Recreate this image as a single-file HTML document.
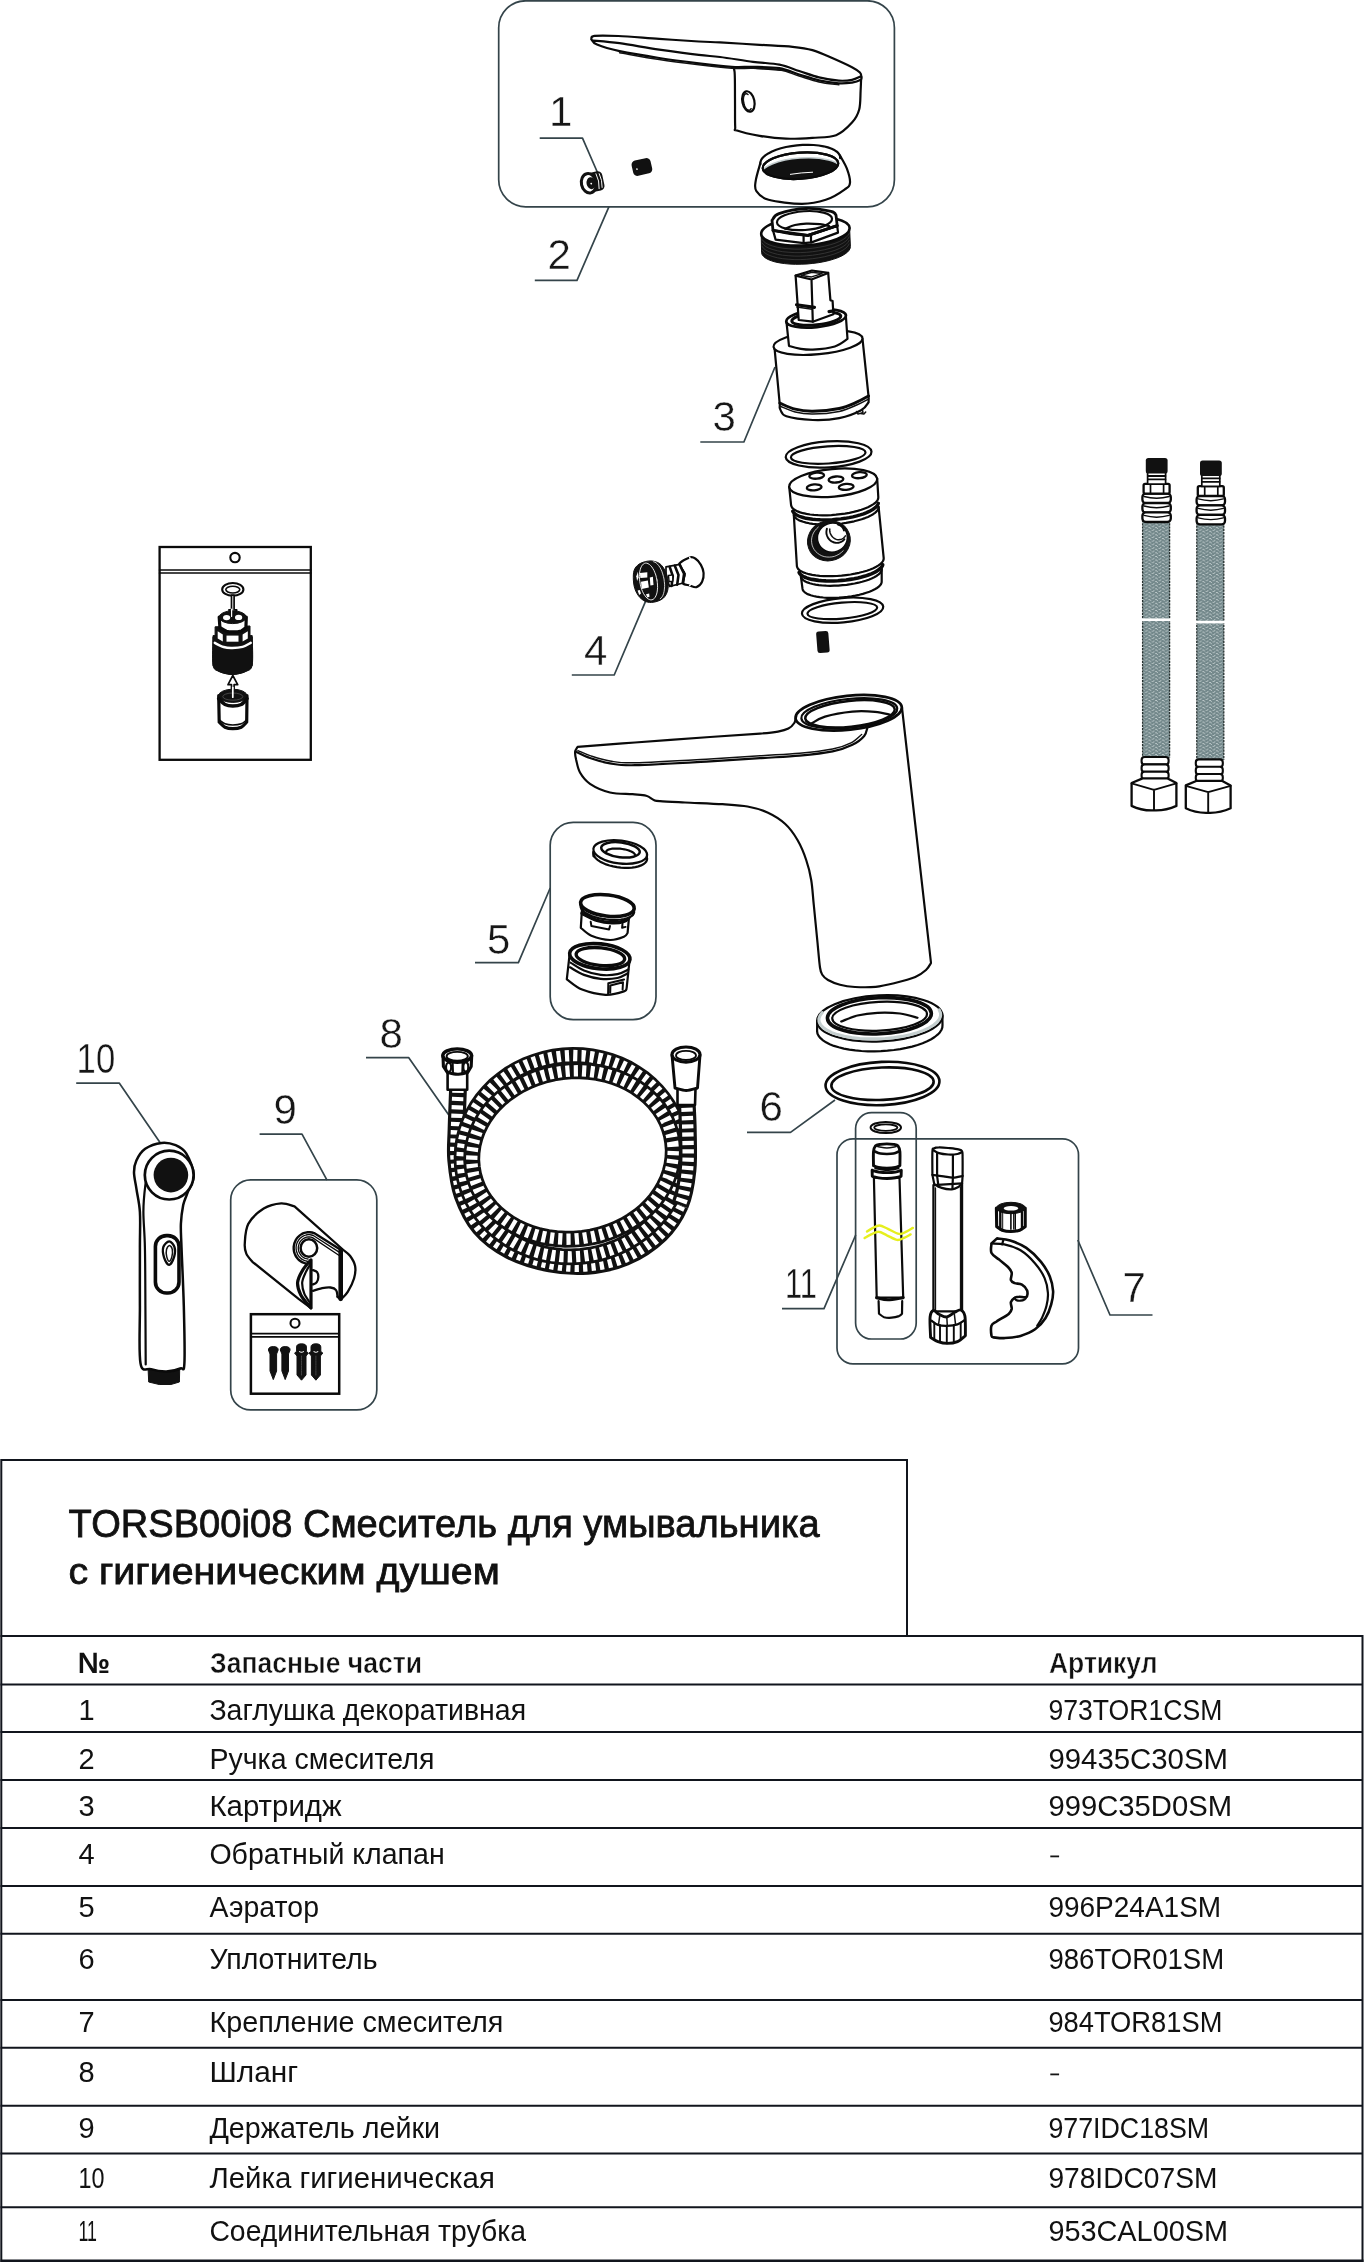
<!DOCTYPE html>
<html lang="ru"><head><meta charset="utf-8"><title>TORSB00i08</title>
<style>
html,body{margin:0;padding:0;background:#fff}
body{width:1364px;height:2262px;overflow:hidden;font-family:"Liberation Sans",sans-serif}
svg{display:block;font-family:"Liberation Sans",sans-serif}
.k{fill:none;stroke:#0a0a0a;stroke-width:2.2;stroke-linecap:round;stroke-linejoin:round}
.kw{fill:#fff;stroke:#0a0a0a;stroke-width:2.2;stroke-linecap:round;stroke-linejoin:round}
.kb{fill:#111;stroke:#111;stroke-width:1;stroke-linejoin:round}
.t{fill:none;stroke:#111;stroke-width:2.4;stroke-linecap:round;stroke-linejoin:round}
.n{fill:none;stroke:#111;stroke-width:1.5;stroke-linecap:round;stroke-linejoin:round}
</style></head><body>
<svg width="1364" height="2262" viewBox="0 0 1364 2262">
<rect width="1364" height="2262" fill="#fff"/>
<g id="tbl"><path d="M1.3 2262V1460H907V1636" fill="none" stroke="#11151d" stroke-width="2"/><path d="M0.5 1636H1362.5V2262" fill="none" stroke="#11151d" stroke-width="2"/><path d="M0.5 1684.5H1362.5" stroke="#11151d" stroke-width="2"/><path d="M0.5 1732H1362.5" stroke="#11151d" stroke-width="2"/><path d="M0.5 1780H1362.5" stroke="#11151d" stroke-width="2"/><path d="M0.5 1828H1362.5" stroke="#11151d" stroke-width="2"/><path d="M0.5 1886H1362.5" stroke="#11151d" stroke-width="2"/><path d="M0.5 1933.8H1362.5" stroke="#11151d" stroke-width="2"/><path d="M0.5 2000H1362.5" stroke="#11151d" stroke-width="2"/><path d="M0.5 2047.7H1362.5" stroke="#11151d" stroke-width="2"/><path d="M0.5 2105.8H1362.5" stroke="#11151d" stroke-width="2"/><path d="M0.5 2153.4H1362.5" stroke="#11151d" stroke-width="2"/><path d="M0.5 2207.3H1362.5" stroke="#11151d" stroke-width="2"/><path d="M0.5 2260.8H1363.5" stroke="#11151d" stroke-width="2.4"/></g>
<g id="txt" fill="#0e1118" style="filter:grayscale(1)"><text x="68.6" y="1536.8" font-size="39.4" textLength="751" lengthAdjust="spacingAndGlyphs" stroke="#0e1118" stroke-width=".8">TORSB00i08 Смеситель для умывальника</text><text x="68.4" y="1583.8" font-size="36.4" textLength="431.4" lengthAdjust="spacingAndGlyphs" stroke="#0e1118" stroke-width=".8">с гигиеническим душем</text><text x="77.8" y="1672.5" font-size="29.5" font-weight="700" textLength="32.4" lengthAdjust="spacingAndGlyphs">№</text><text x="210" y="1672.5" font-size="29.5" font-weight="700" textLength="212" lengthAdjust="spacingAndGlyphs" stroke="#fff" stroke-width=".5">Запасные части</text><text x="1049" y="1672.5" font-size="29.5" font-weight="700" textLength="108.5" lengthAdjust="spacingAndGlyphs" stroke="#fff" stroke-width=".5">Артикул</text><text x="78.5" y="1720" font-size="29">1</text><text x="209.4" y="1720" font-size="29" textLength="316.7" lengthAdjust="spacingAndGlyphs">Заглушка декоративная</text><text x="1048.4" y="1720" font-size="29" textLength="174.0" lengthAdjust="spacingAndGlyphs">973TOR1CSM</text><text x="78.5" y="1768.5" font-size="29">2</text><text x="209.4" y="1768.5" font-size="29" textLength="225" lengthAdjust="spacingAndGlyphs">Ручка смесителя</text><text x="1048.4" y="1768.5" font-size="29" textLength="179.6" lengthAdjust="spacingAndGlyphs">99435C30SM</text><text x="78.5" y="1816.3" font-size="29">3</text><text x="209.4" y="1816.3" font-size="29" textLength="132.3" lengthAdjust="spacingAndGlyphs">Картридж</text><text x="1048.4" y="1816.3" font-size="29" textLength="183.6" lengthAdjust="spacingAndGlyphs">999C35D0SM</text><text x="78.5" y="1864" font-size="29">4</text><text x="209.4" y="1864" font-size="29" textLength="235.3" lengthAdjust="spacingAndGlyphs">Обратный клапан</text><path d="M1050.3 1856.4h8.8" stroke="#11151d" stroke-width="1.8"/><text x="78.5" y="1917" font-size="29">5</text><text x="209.4" y="1917" font-size="29" textLength="109.6" lengthAdjust="spacingAndGlyphs">Аэратор</text><text x="1048.4" y="1917" font-size="29" textLength="172.79999999999998" lengthAdjust="spacingAndGlyphs">996P24A1SM</text><text x="78.5" y="1968.5" font-size="29">6</text><text x="209.4" y="1968.5" font-size="29" textLength="168.2" lengthAdjust="spacingAndGlyphs">Уплотнитель</text><text x="1048.4" y="1968.5" font-size="29" textLength="175.79999999999998" lengthAdjust="spacingAndGlyphs">986TOR01SM</text><text x="78.5" y="2031.5" font-size="29">7</text><text x="209.4" y="2031.5" font-size="29" textLength="294" lengthAdjust="spacingAndGlyphs">Крепление смесителя</text><text x="1048.4" y="2031.5" font-size="29" textLength="174.0" lengthAdjust="spacingAndGlyphs">984TOR81SM</text><text x="78.5" y="2082" font-size="29">8</text><text x="209.4" y="2082" font-size="29" textLength="88.7" lengthAdjust="spacingAndGlyphs">Шланг</text><path d="M1050.3 2074.4h8.8" stroke="#11151d" stroke-width="1.8"/><text x="78.5" y="2137.8" font-size="29">9</text><text x="209.4" y="2137.8" font-size="29" textLength="230.6" lengthAdjust="spacingAndGlyphs">Держатель лейки</text><text x="1048.4" y="2137.8" font-size="29" textLength="160.79999999999998" lengthAdjust="spacingAndGlyphs">977IDC18SM</text><text x="78.5" y="2187.6" font-size="29" textLength="26" lengthAdjust="spacingAndGlyphs">10</text><text x="209.4" y="2187.6" font-size="29" textLength="285.5" lengthAdjust="spacingAndGlyphs">Лейка гигиеническая</text><text x="1048.4" y="2187.6" font-size="29" textLength="169.0" lengthAdjust="spacingAndGlyphs">978IDC07SM</text><text x="78.5" y="2241.3" font-size="29" textLength="18.5" lengthAdjust="spacingAndGlyphs">11</text><text x="209.4" y="2241.3" font-size="29" textLength="316.7" lengthAdjust="spacingAndGlyphs">Соединительная трубка</text><text x="1048.4" y="2241.3" font-size="29" textLength="179.6" lengthAdjust="spacingAndGlyphs">953CAL00SM</text></g>
<g id="lead" fill="none" stroke="#34444a" stroke-width="1.7" stroke-linejoin="round"><rect x="498.7" y="0.8" width="395.7" height="206.0" rx="27" ry="27"/><rect x="550.2" y="822.3" width="105.79999999999995" height="197.4000000000001" rx="23" ry="23"/><rect x="837" y="1138.8" width="241.5" height="225.10000000000014" rx="16" ry="16"/><rect x="855.6" y="1112.6" width="60.60000000000002" height="226.4000000000001" rx="16" ry="16"/><rect x="230.7" y="1179.9" width="146.10000000000002" height="230.0" rx="20" ry="20"/><path d="M539.7 138.2H582.5L599 176"/><path d="M534.8 280.3H577L609 206.6"/><path d="M700.3 442H743.9L775 367"/><path d="M571.8 675H614.2L646.7 598.6"/><path d="M475 962.6H518.4L550.2 888"/><path d="M747 1132.4H790.5L835 1100"/><path d="M1152.5 1315H1110L1077.8 1240"/><path d="M366 1057.6H408.6L448.8 1115"/><path d="M259.6 1134.2H302L327 1180.2"/><path d="M76.2 1083.2H119.4L160 1142.6"/><path d="M782 1308.6H824L855.7 1235"/></g>
<g id="nums" fill="#14171c" stroke="#fff" stroke-width=".4" style="filter:grayscale(1)"><text x="549" y="126" font-size="42">1</text><text x="547.5" y="269" font-size="42">2</text><text x="712.5" y="431" font-size="42">3</text><text x="584" y="664.7" font-size="42">4</text><text x="487" y="953.6" font-size="42">5</text><text x="759.5" y="1121" font-size="42">6</text><text x="1122.5" y="1302" font-size="42">7</text><text x="379.5" y="1047.7" font-size="42">8</text><text x="273.5" y="1123.6" font-size="42">9</text><text x="76.6" y="1073" font-size="42" textLength="38.6" lengthAdjust="spacingAndGlyphs">10</text><text x="785" y="1297.7" font-size="42" textLength="32" lengthAdjust="spacingAndGlyphs">11</text></g>
<g id="p_handle"><path class="kw" d="M731.8 66C732.3 67 734.1 66.3 734.6 72C735.1 77.7 734.9 90.8 735 100C735.1 109.2 734.9 121.9 735.2 127C735.5 132.1 732.9 129 737 130.5C741.1 132 751.4 134.4 759.6 135.8C767.8 137.2 777.2 138.4 786 138.7C794.8 139 804 138.4 812.4 137.8C820.8 137.2 829.5 137.7 836.1 135.2C842.7 132.7 848.1 126.9 852 122.6C855.9 118.3 857.8 114.8 859.2 109.5C860.6 104.2 860.3 96.5 860.6 91C860.9 85.5 861.1 78.9 861.2 76.5Z"/><path class="kw" d="M591.3 39.2C591.8 38.7 590 36.4 594.5 35.9C599 35.4 607.5 35.5 618.3 36C629.1 36.5 645.8 38 659.2 38.9C672.6 39.8 688.7 40.9 698.8 41.5C708.9 42.1 709.9 41.9 720 42.4C730.1 42.9 747.5 44.1 759.6 44.8C771.7 45.5 783.8 45.9 792.6 46.8C801.4 47.7 805.8 48.2 812.4 50.1C819 52 825.6 55.1 832.2 58C838.8 60.9 847.4 64.8 852 67.2C856.6 69.6 858.3 70.9 859.9 72.5C861.5 74.1 861.3 75.8 861.4 77C861.5 78.2 861.9 79.1 860.3 80C858.7 80.9 855.6 82 852 82.6C848.4 83.1 844.3 83.7 838.8 83.3C833.3 82.9 825.6 81.9 819 80.4C812.4 78.9 805.8 76.5 799.2 74.5C792.6 72.5 787.1 69.5 779.4 68.2C771.7 66.9 760.9 67 753 66.8C745.1 66.6 740.8 67.4 731.8 66.8C722.8 66.2 710.9 64.8 698.8 63.3C686.7 61.8 672.4 60 659.2 58C646 56 630 53.4 619.6 51.2C609.2 49 601.7 46.6 597 44.6C592.3 42.6 592.2 40.1 591.3 39.2Z"/><path class="k" d="M593 40.6C597.4 41 608.6 41.7 619.6 43.2C630.6 44.7 646 47.7 659.2 49.6C672.4 51.5 688.7 53.7 698.8 54.9C708.9 56.1 711 55.9 720 57C729 58.1 743.1 60.5 753 61.8C762.9 63.1 771.7 63.1 779.4 64.6C787.1 66.1 792.6 68.9 799.2 71C805.8 73.1 812.4 75.8 819 77.4C825.6 79 833.3 80.2 838.8 80.6C844.3 81 848.4 80.5 852 79.8C855.6 79.1 859 77.1 860.4 76.6"/><path class="n" d="M838.8 84.8C835.5 84.3 825.6 83.4 819 81.9C812.4 80.4 805.8 78 799.2 76C792.6 74 787.1 71 779.4 69.7C771.7 68.4 760.9 68.5 753 68.3C745.1 68.1 740.8 68.9 731.8 68.3C722.8 67.7 710.9 66.3 698.8 64.8C686.7 63.3 672.4 61.5 659.2 59.5C646 57.5 626.2 53.8 619.6 52.7"/><ellipse class="k" cx="748.4" cy="101.5" rx="6" ry="10.4" transform="rotate(-12 748.4 101.5)"/><path class="n" d="M751.1 108.7L750.7 109.3L750.2 109.8L749.7 110.1L749.2 110.2L748.6 110.2L748.1 110.1L747.5 109.7L746.9 109.3L746.3 108.7L745.7 107.9L745.2 107.1L744.7 106.1L744.3 105.1L744 104L743.7 102.8L743.5 101.7L743.4 100.5L743.3 99.4L743.4 98.4L743.5 97.4L743.7 96.5L744 95.7L744.3 95L744.7 94.4L745.2 94.1L745.7 93.8L746.3 93.7L746.9 93.8L747.4 94.1L748 94.5"/><path class="kw" d="M760.5 162.6C759.7 165.6 756.4 176 755.7 180.8C755 185.6 754.2 188 756.4 191.2C758.5 194.4 761 197.7 768.6 199.8C776.2 201.9 792.5 203.8 802 203.8C811.5 203.8 818.6 202.2 825.8 199.8C832.9 197.4 840.9 192.2 844.9 189.3C848.9 186.5 849.7 186.2 850 182.7C850.3 179.2 848.5 172.9 846.8 168.4C845.1 163.9 841.1 157.7 840 155.5"/><path class="kw" d="M760.5 164L760.5 161.9L761.3 159.7L762.9 157.5L765.3 155.4L768.3 153.4L772 151.5L776.2 149.8L780.9 148.3L786 147L791.4 146.1L797 145.3L802.6 144.9L808.2 144.8L813.6 145L818.8 145.5L823.5 146.3L827.9 147.4L831.7 148.7L834.8 150.3L837.3 152L839 154L840 156L840.2 158.2"/><clipPath id="cpo"><ellipse cx="800.5" cy="165.7" rx="37.8" ry="13.1" transform="rotate(-4 800.5 165.7)"/></clipPath><ellipse class="kw" cx="800.5" cy="165.7" rx="37.8" ry="13.1" transform="rotate(-4 800.5 165.7)"/><g clip-path="url(#cpo)"><ellipse cx="801" cy="171.4" rx="40" ry="13.4" transform="rotate(-4 801 171.2)" fill="#111" stroke="#c3cdcf" stroke-width="1.6"/><path d="M790 174.4Q801 172.6 813 172.2" stroke="#fff" stroke-width="1" fill="none"/></g><ellipse class="k" cx="800.5" cy="165.7" rx="37.8" ry="13.1" transform="rotate(-4 800.5 165.7)"/><g transform="rotate(-13 641.8 167)"><rect x="632.2" y="159.2" width="19.4" height="15.6" rx="4.2" fill="#111"/><circle cx="636.6" cy="168" r=".8" fill="#fff"/></g><g transform="rotate(-12 592 182.4)"><rect x="588" y="172.6" width="15.6" height="19.6" rx="4.6" fill="#111"/><path d="M597.6 174.4q2.2 8 0 16M600.8 175q1.8 7.4 0 14.8" stroke="#fff" stroke-width=".9" fill="none"/><ellipse cx="588.7" cy="182.6" rx="7.4" ry="9.8" fill="#fff" stroke="#111" stroke-width="3"/><ellipse cx="591" cy="183" rx="4.6" ry="6" fill="#111"/><circle cx="591" cy="183.4" r=".9" fill="#fff"/></g></g>
<g id="p_cart"><path class="kb" d="M849.6 227.9L849.3 229.8L848.3 231.7L846.6 233.6L844.2 235.5L841.1 237.2L837.4 238.9L833.1 240.4L828.4 241.8L823.2 243L817.8 244L812.2 244.7L806.4 245.3L800.6 245.5L794.9 245.6L789.4 245.4L784.2 244.9L779.3 244.2L774.9 243.3L770.9 242.1L767.6 240.8L765 239.3L763 237.7L761.7 235.9L761.2 234.1L761.6 252.7L762.1 254.6L763.4 256.3L765.4 258L768.1 259.5L771.4 260.8L775.3 262L779.8 262.9L784.7 263.6L789.9 264.1L795.5 264.3L801.2 264.2L807 264L812.8 263.4L818.5 262.7L823.9 261.7L829.1 260.5L833.8 259.1L838.1 257.6L841.8 255.9L844.9 254.1L847.4 252.2L849.1 250.3L850.1 248.4L850.4 246.5Z"/><path class="n" d="M849.1 233.4L847.9 235.5L845.9 237.6L843 239.6L839.4 241.5L835 243.3L830.1 244.8L824.7 246.2L818.8 247.3L812.7 248.2L806.5 248.8L800.2 249.1L794.1 249.1L788.1 248.7L782.6 248.2L777.5 247.3L772.9 246.1L769.1 244.8L765.9 243.2L763.6 241.4L762.2 239.5" style="stroke:#4a4a4a;stroke-width:.6"/><path class="n" d="M849.1 236.9L847.9 239L845.9 241.1L843 243.1L839.4 245L835 246.8L830.1 248.3L824.7 249.7L818.8 250.8L812.7 251.7L806.5 252.3L800.2 252.6L794.1 252.6L788.1 252.2L782.6 251.7L777.5 250.8L772.9 249.6L769.1 248.3L765.9 246.7L763.6 244.9L762.2 243" style="stroke:#4a4a4a;stroke-width:.6"/><path class="n" d="M849.1 240.4L847.9 242.5L845.9 244.6L843 246.6L839.4 248.5L835 250.3L830.1 251.8L824.7 253.2L818.8 254.3L812.7 255.2L806.5 255.8L800.2 256.1L794.1 256.1L788.1 255.7L782.6 255.2L777.5 254.3L772.9 253.1L769.1 251.8L765.9 250.2L763.6 248.4L762.2 246.5" style="stroke:#4a4a4a;stroke-width:.6"/><path class="n" d="M849.1 243.9L847.9 246L845.9 248.1L843 250.1L839.4 252L835 253.8L830.1 255.3L824.7 256.7L818.8 257.8L812.7 258.7L806.5 259.3L800.2 259.6L794.1 259.6L788.1 259.2L782.6 258.7L777.5 257.8L772.9 256.6L769.1 255.3L765.9 253.7L763.6 251.9L762.2 250" style="stroke:#4a4a4a;stroke-width:.6"/><ellipse class="kw" cx="805.4" cy="231" rx="44.3" ry="14.3" transform="rotate(-4 805.4 231)" style="stroke-width:2.6"/><path class="kw" d="M773 230.4L775.6 239.6L803.7 243.2L811.5 242.4L838 232.6L837.2 225.6L808 235.4Z"/><path class="kw" d="M773 230.4L772 220.4C773.2 219.3 773.3 215.6 779 213.6C784.7 211.6 797.6 208.9 806.3 208.5C815 208.1 826 210.3 831 211.4C836 212.5 835.2 214.6 836 215.2L837.2 225.6L808 235.4Z" style="stroke-width:2.8"/><path class="k" d="M803.6 235.2V243M811 234.8V242.4"/><ellipse class="kw" cx="804.5" cy="220.6" rx="27.6" ry="9.4" transform="rotate(-4 804.5 220.6)"/><path class="k" d="M785.2 228.6C786.8 228 791.5 225.8 795 225C798.5 224.2 802.1 223.7 806.3 223.6C810.5 223.5 816.2 223.8 820 224.2C823.8 224.6 827.7 225.9 829.2 226.2"/><path class="k" d="M773 230.4C775.8 230.9 784.2 232.8 790 233.6C795.8 234.4 805 235.1 808 235.4M808 235.4L837.2 225.6" style="stroke-width:2.9"/><path class="kw" d="M774.5 347.7L779.8 404.8C779.9 405.6 779.1 407.3 780.2 409.2C781.3 411.1 781 414.5 786.4 416.3C791.8 418.1 804 419.6 812.8 420C821.6 420.3 831.1 419.8 839.2 418.2C847.2 416.6 856.2 413 861.1 410.3C866.1 407.6 867.4 403.6 868.6 402.2L868.6 396.9L862.5 338.9"/><ellipse class="kw" cx="818" cy="342.6" rx="44.7" ry="11.6" transform="rotate(-5.6 818 342.6)"/><path class="k" d="M779.8 403.1C782.4 404.1 789.7 407.9 795.2 409.2C800.7 410.6 805.4 411.3 812.8 411.2C820.1 411.1 831.8 410 839.2 408.5C846.5 407 851.8 404.3 856.7 402.2C861.7 400.1 866.6 397.1 868.6 396" style="stroke-width:2.9"/><path class="n" d="M780.1 406.2C782.6 407.1 789.7 410.7 795.2 412.1C800.6 413.4 805.4 414.2 812.8 414.1C820.1 414 831.8 412.9 839.2 411.4C846.5 409.9 851.8 407.1 856.7 405C861.7 402.9 866.8 399.9 868.8 398.9"/><path class="n" d="M856.5 411.5l1.5 2.6l5-1.6l-.6-2.8M860.5 413.5l3.4 .6l1.8-2"/><path class="kw" d="M786.4 321.3L789 345.9C790.8 346.4 795.6 347.9 799.6 348.6C803.5 349.2 806.9 349.9 812.8 349.6C818.6 349.3 829 348.3 834.8 346.5C840.5 344.7 845.4 340.2 847.5 338.9L845.8 315.1"/><ellipse class="kw" cx="816.1" cy="318.4" rx="30" ry="8.7" transform="rotate(-6 816.1 318.4)" style="stroke-width:2.8"/><ellipse class="k" cx="816.3" cy="318.6" rx="24.6" ry="6.2" transform="rotate(-6 816.3 318.6)" style="stroke-width:3.1"/><path class="kw" d="M795.6 275.6L811.9 270.5L828.2 272.9L830.4 300.2L832.6 301.1L833.4 314.3L812.8 321.7L798.7 320Z"/><path class="k" d="M795.6 275.6L811.5 279.5L828.2 272.9M811.5 279.5L812.8 321.7"/><path class="n" d="M801.3 275.4L811.9 272.2L822 273.6L811.5 276.9Z"/><path class="k" d="M796.5 304.8L814.5 307.4" style="stroke-width:3.1"/><path class="n" d="M796.9 307L812.1 309.2"/><path class="k" d="M829 311.6L833.4 310.9" style="stroke-width:3.1"/></g>
<g id="p_valve"><ellipse class="kw" cx="828.6" cy="454.4" rx="43" ry="13" transform="rotate(-3.7 828.6 454.4)"/><ellipse class="k" cx="828.2" cy="454.9" rx="37.4" ry="8.6" transform="rotate(-3.9 828.2 454.9)"/><path class="kw" d="M881.7 568.9L881.7 581.3L881.6 582.6L881.1 584L880.1 585.3L878.8 586.7L877 588L874.8 589.3L872.3 590.5L869.5 591.7L866.3 592.8L862.9 593.9L859.3 594.8L855.4 595.6L851.5 596.3L847.4 596.9L843.2 597.3L839.1 597.7L835 597.8L830.9 597.9L827 597.8L823.3 597.5L819.7 597.1L816.4 596.6L813.4 596L810.7 595.2L808.4 594.4L806.4 593.4L804.8 592.3L803.6 591.2L802.8 589.9L802.5 588.7L800.9 576.5"/><path class="k" d="M881.7 569.4L881.5 570.7L880.8 572L879.8 573.4L878.3 574.7L876.4 576L874.2 577.3L871.6 578.5L868.7 579.7L865.6 580.8L862.1 581.8L858.5 582.7L854.6 583.5L850.7 584.2L846.6 584.8L842.5 585.2L838.3 585.6L834.2 585.7L830.2 585.8L826.3 585.7L822.5 585.5L818.9 585.1L815.6 584.6L812.6 584L809.8 583.3L807.4 582.4L805.3 581.5L803.6 580.4L802.3 579.3L801.4 578.1L800.9 576.9"/><path class="kw" d="M878.6 506.8L883.7 558.1L883.6 559.5L883 561L882 562.5L880.5 563.9L878.5 565.4L876.2 566.8L873.4 568.2L870.3 569.5L866.8 570.7L863.1 571.8L859.1 572.8L854.9 573.7L850.6 574.5L846.1 575.1L841.6 575.6L837 576L832.5 576.2L828.1 576.2L823.8 576.1L819.7 575.8L815.8 575.4L812.2 574.9L808.9 574.2L805.9 573.3L803.3 572.4L801.2 571.3L799.4 570.1L798.1 568.9L797.3 567.5L796.9 566.1L793.8 514.6"/><path class="k" d="M882.7 564.8L882.2 566.1L881.3 567.5L880 568.8L878.3 570.1L876.3 571.4L874 572.7L871.3 573.9L868.3 575L865.1 576.1L861.6 577.1L857.9 578L854.1 578.8L850.2 579.4L846.1 580L842 580.4L837.9 580.8L833.8 581L829.8 581L825.9 580.9L822.1 580.7L818.6 580.4L815.2 579.9L812.1 579.4L809.2 578.7L806.6 577.9L804.4 577L802.5 576L801 574.9L799.9 573.8L799.1 572.6" style="stroke-width:3.6"/><path class="kw" d="M877.2 478.7L878.3 497.1L878.2 498.5L877.6 500L876.6 501.5L875.1 503L873.1 504.4L870.7 505.8L868 507.2L864.8 508.5L861.4 509.8L857.6 510.9L853.6 511.9L849.4 512.8L845 513.6L840.5 514.2L836 514.7L831.4 515.1L826.9 515.3L822.4 515.3L818.1 515.2L814 514.9L810.1 514.5L806.5 513.9L803.1 513.2L800.2 512.4L797.6 511.4L795.4 510.3L793.6 509.2L792.3 507.9L791.5 506.5L791.1 505.1L789.2 486.9"/><path class="k" d="M878.3 503.3L877.8 504.7L876.9 506.1L875.5 507.4L873.8 508.8L871.8 510.1L869.3 511.4L866.6 512.6L863.6 513.8L860.2 514.9L856.7 515.9L852.9 516.8L849 517.6L845 518.3L840.8 518.9L836.6 519.3L832.4 519.7L828.3 519.9L824.2 519.9L820.2 519.8L816.3 519.6L812.6 519.3L809.2 518.8L806 518.3L803.1 517.5L800.4 516.7L798.2 515.8L796.2 514.8L794.7 513.7L793.5 512.5L792.8 511.3" style="stroke-width:3.4"/><path class="k" d="M878.6 507.2L878.4 508.6L877.7 510L876.6 511.4L875 512.8L873.1 514.2L870.7 515.6L868 516.9L865 518.1L861.7 519.3L858.1 520.3L854.2 521.3L850.2 522.1L846 522.9L841.8 523.5L837.4 523.9L833.1 524.3L828.8 524.5L824.5 524.5L820.4 524.4L816.5 524.2L812.8 523.8L809.3 523.3L806.1 522.6L803.2 521.8L800.6 520.9L798.4 519.9L796.7 518.8L795.3 517.7L794.3 516.4L793.9 515.1"/><ellipse class="kw" cx="833.2" cy="482.8" rx="44.2" ry="13.8" transform="rotate(-5.3 833.2 482.8)"/><ellipse class="k" cx="816.7" cy="475.7" rx="7.4" ry="3" transform="rotate(-5 816.7 475.7)" style="stroke-width:2.3"/><ellipse class="k" cx="836" cy="479.5" rx="7.4" ry="3" transform="rotate(-5 836 479.5)" style="stroke-width:2.3"/><ellipse class="k" cx="859.4" cy="475.2" rx="7.4" ry="3" transform="rotate(-5 859.4 475.2)" style="stroke-width:2.3"/><ellipse class="k" cx="814.2" cy="487.4" rx="7.4" ry="3" transform="rotate(-5 814.2 487.4)" style="stroke-width:2.3"/><ellipse class="k" cx="846.2" cy="486.9" rx="7.4" ry="3" transform="rotate(-5 846.2 486.9)" style="stroke-width:2.3"/><ellipse class="kb" cx="828.9" cy="540.7" rx="21.6" ry="20" transform="rotate(-20 828.9 540.7)"/><ellipse class="kw" cx="832.4" cy="537.6" rx="15" ry="14.4" transform="rotate(-20 832.4 537.6)" style="stroke-width:1.4"/><path class="n" d="M843.2 550.7L841.3 552.5L839.2 554.1L836.9 555.3L834.5 556.3L831.9 556.9L829.4 557.1L826.8 557L824.2 556.6L821.8 555.8L819.5 554.6L817.5 553.2L815.7 551.5L814.2 549.6L813 547.4L812.1 545.1L811.7 542.7L811.5 540.3L811.8 537.8L812.4 535.4L813.4 533L814.7 530.9L816.4 528.9L818.3 527.1" style="stroke:#fff;stroke-width:.7"/><path class="k" d="M844.4 539.3L843.4 540.4L842.3 541.2L841.1 541.9L839.8 542.4L838.5 542.8L837.1 542.9L835.7 542.8L834.3 542.5L832.9 542L831.6 541.4L830.4 540.5L829.4 539.6L828.4 538.4L827.7 537.2L827.1 535.8L826.6 534.4L826.4 533L826.4 531.6L826.6 530.1L826.9 528.7" style="stroke-width:1.9"/><path class="n" d="M845.4 535.8L844.8 536.7L844 537.6L843.2 538.3L842.3 538.9L841.2 539.4L840.1 539.6L839 539.8L837.9 539.7L836.7 539.5L835.6 539.1L834.5 538.5L833.5 537.8L832.6 537L831.8 536L831.1 535L830.5 533.9L830.1 532.7L829.8 531.5L829.7 530.3L829.8 529.1"/><path class="k" d="M838 524.5q5 1.5 6 6" style="stroke-width:1.9"/><ellipse class="kw" cx="842.6" cy="610.2" rx="40.8" ry="12.2" transform="rotate(-5 842.6 610.2)"/><ellipse class="k" cx="842.3" cy="610.6" rx="35" ry="8" transform="rotate(-5.2 842.3 610.6)"/><rect x="816.8" y="631.2" width="12.2" height="21.6" rx="2.6" fill="#111" transform="rotate(-4.5 823 642)"/><path class="kw" d="M679.1 564.3C679.9 561.6 687 558.4 689.7 557.5C692.4 556.5 693.4 557.2 695.3 558.5C697.2 559.7 699.5 562.5 700.9 564.9C702.3 567.4 703.4 570.2 703.6 573C703.8 575.8 703.3 579.4 702.1 581.8C701 584.1 698.6 586.5 696.5 587.1C694.5 587.8 692 586.2 689.7 585.5C687.4 584.8 683.6 585 682.8 583C682 581 685.3 576.8 684.7 573.7C684.1 570.5 678.2 567 679.1 564.3Z"/><path class="n" d="M689.7 557.5L692.8 564.9L694 573.7L692.2 582.4L689.7 585.5" style="stroke:#fff"/><path class="kw" d="M666 566.8L679.7 564.3L684.7 573.7L683.4 583L669.7 586.4L666 577.4Z" style="stroke-width:1.7"/><path class="k" d="M669.7 566.9L672.8 576.2L671.6 585.9M674.7 565.6L678.5 574.9L677.2 584.6M679.7 564.6L684.1 573.7L682.8 583" style="stroke-width:2.6"/><path class="kw" d="M668.5 575.5L672.8 574.9L672.8 581.1L669.1 581.8Z" style="stroke-width:1.4"/><path class="kb" d="M634.8 568.7C636.1 566.3 638.3 564.4 641 563.1C643.7 561.8 647.9 560.8 651 560.9C654.1 561.1 657.4 562 659.8 563.7C662.1 565.4 663.9 568.3 665.4 571.2C666.8 574.1 667.9 577.8 668.2 581.1C668.6 584.5 668.3 588.3 667.5 591.1C666.7 593.9 665.4 596.2 663.5 598C661.6 599.7 658.7 601 656 601.7C653.3 602.4 650 602.8 647.3 602.1C644.6 601.4 641.9 599.6 639.8 597.4C637.7 595.1 635.9 592 634.8 588.6C633.7 585.3 633.3 580.7 633.3 577.4C633.3 574.1 633.5 571.1 634.8 568.7Z"/><path class="n" d="M657 580L657.3 582.6L657.5 585.1L657.6 587.6L657.4 589.9L657.1 592.1L656.6 594.1L655.9 595.9L655.1 597.3L654.2 598.5L653.2 599.3L652 599.8L650.8 599.9L649.6 599.6L648.3 599L647.1 598.1L645.8 596.9L644.7 595.3L643.5 593.5L642.5 591.4L641.6 589.2L640.9 586.8L640.3 584.3L639.8 581.7L639.5 579.2L639.4 576.6L639.5 574.2L639.7 571.9L640.2 569.8L640.7 568L641.5 566.4L642.3 565.1L643.3 564.1L644.4 563.4L645.6 563.1L646.8 563.2L648 563.6L649.3 564.4L650.6 565.5L651.8 566.9L652.9 568.6L654 570.5L654.9 572.7L655.8 575L656.4 577.5L657 580" style="stroke:#fff;stroke-width:.9"/><path class="n" d="M653.7 561.8L655 562.2L656.2 563L657.5 564.2L658.7 565.6L659.9 567.3L660.9 569.3L661.9 571.5L662.7 573.9L663.4 576.4L664 579L664.3 581.6L664.6 584.2L664.6 586.7L664.4 589.1L664.1 591.4L663.6 593.4L663 595.2L662.2 596.7L661.3 597.8L660.2 598.7" style="stroke:#fff;stroke-width:.8"/><path class="n" d="M639.8 573L647.3 572.2L647.3 577.4L640.4 578Z" style="fill:#fff;stroke:none"/><path class="n" d="M641 581.8L647.9 580.5L648.8 587.4L641.7 588.9Z" style="fill:#fff;stroke:none"/><path class="n" d="M636.3 576.2L637.9 571.8L638.6 577.4L637.1 581.1Z" style="fill:#fff;stroke:none"/><path class="n" d="M637.6 590.5L639.8 589.9L641 593.6L639.2 594.9Z" style="fill:#fff;stroke:none"/><path class="n" d="M646 594.2L649.2 593.6L649.5 596.7L647.3 597.6Z" style="fill:#fff;stroke:none"/><path class="n" d="M649.8 577.4L652.9 576.8L653.5 584.9L650.4 585.5Z" style="fill:#fff;stroke:none"/></g>
<g id="p_body"><path class="kw" d="M577.6 746.9C587.2 746.2 612.9 744.1 635 742.5C657.1 740.9 689.2 738.5 710 737C730.8 735.5 748.7 734.5 760 733.6C771.3 732.7 773.3 732.4 778 731.6C782.7 730.8 785.7 730 788.4 728.6C791.1 727.2 793.1 724.8 794.3 723C795.5 721.2 795.5 718.8 795.8 718L901.9 706.8L931 963C930.2 964.2 928.6 967.7 926 970C923.4 972.3 920.5 974.8 915.3 977C910.1 979.2 901.6 981.4 895 983C888.4 984.6 882.4 986.1 875.7 986.8C869 987.5 861 987.3 855 987C849 986.7 844.5 986 840 984.8C835.5 983.6 830.9 981.6 828 980C825.1 978.4 823.8 977.1 822.5 975C821.2 972.9 820.8 972.9 820 967.5C819.2 962.1 818.5 952.9 817.5 942.5C816.5 932.1 814.8 915.4 813.8 905C812.7 894.6 812.5 887.5 811.2 880C810 872.5 808.5 866.7 806.2 860C804 853.3 801 846 797.5 840C794 834 790 828.3 785 823.8C780 819.2 773.8 815.4 767.5 812.5C761.2 809.6 755 807.9 747.5 806.5C740 805.1 732.9 804.9 722.5 804.2C712.1 803.6 695.4 803 685 802.5C674.6 802 665.2 801.6 660 801.2C654.8 800.8 656 800.9 653.8 800C651.5 799.1 649.8 796.8 646.2 795.8C642.7 794.8 638.5 794.8 632.5 794.2C626.5 793.7 617.1 794.2 610 792.5C602.9 790.8 595 787.1 590 783.8C585 780.4 582.3 776.5 580 772.5C577.7 768.5 577.1 763.4 576.2 760C575.4 756.6 574.9 754.2 575.1 752C575.3 749.8 577.2 747.8 577.6 746.9Z"/><path class="k" d="M575.6 751.5C578 752.6 584.3 756 590 758C595.7 760 602.5 762.2 610 763.4C617.5 764.6 618.3 765.5 635 765.2C651.7 764.9 689.2 762.6 710 761.4C730.8 760.2 745.1 759.2 760 758.2C774.9 757.2 787.5 756.7 799.6 755.6C811.7 754.5 823.8 753.2 832.6 751.4C841.4 749.6 847.1 747.4 852.4 744.8C857.7 742.2 861.7 739 864.2 736C866.7 733 867 728.5 867.6 727"/><path class="n" d="M578 750.6C580 751.4 584.7 753.9 590 755.6C595.3 757.3 602.5 759.8 610 761C617.5 762.2 618.3 763.1 635 762.8C651.7 762.5 689.2 760.2 710 759C730.8 757.8 745.1 756.8 760 755.8C774.9 754.8 787.5 754.3 799.6 753.2C811.7 752.1 824 750.7 832.6 749C841.2 747.3 846.2 745.2 851 742.8C855.8 740.4 859.8 735.9 861.6 734.5"/><ellipse class="kw" cx="848.7" cy="712.8" rx="53.4" ry="17" transform="rotate(-6 848.7 712.8)" style="stroke-width:2.7"/><ellipse class="k" cx="849.3" cy="713.3" rx="48.2" ry="14.4" transform="rotate(-6 849.3 713.3)"/><ellipse class="k" cx="850" cy="713.8" rx="45" ry="12.9" transform="rotate(-6 850 713.8)" style="stroke-width:2.5"/><path class="k" d="M811.5 723.6C813.8 722.4 818.2 718.6 825 716.6C831.8 714.6 844.1 712.4 852.4 711.6C860.7 710.8 868.6 711.3 875 711.8C881.4 712.3 888 714.3 890.6 714.8"/><path class="kw" d="M647.1 858.3L647 859.9L646.3 861.5L645 863L643.3 864.3L641.1 865.4L638.4 866.4L635.4 867.1L632 867.6L628.4 867.8L624.7 867.9L620.8 867.6L617 867.1L613.2 866.4L609.5 865.5L606.1 864.4L603 863.1L600.2 861.7L597.9 860.1L596 858.5L594.6 856.8L593.8 855.1L593.5 853.4L593.7 851.7"/><path class="k" d="M593.3 852.1L593.5 856.3M647.1 854.5L646.6 859.4"/><ellipse class="kw" cx="620.2" cy="852" rx="27" ry="11.5" transform="rotate(7 620.2 852)"/><ellipse class="k" cx="620.5" cy="849.8" rx="19.4" ry="7.4" transform="rotate(7 620.5 849.8)" style="stroke-width:2.5"/><path class="k" d="M606.1 852.2L606.2 851.6L606.5 850.9L607.2 850.3L608.1 849.8L609.3 849.3L610.7 849L612.3 848.7L614.1 848.6L616 848.5L618.1 848.6L620.1 848.7L622.2 849L624.3 849.3L626.3 849.8L628.1 850.3L629.8 850.9L631.3 851.5L632.6 852.2L633.7 852.9L634.4 853.7L634.9 854.4L635.1 855.1L635 855.8"/><path class="kw" d="M582 908.8L580.8 927.8C582.6 929.1 586.6 933.7 591.4 935.7C596.3 937.7 604.6 939.8 610 940C615.4 940.2 621 938 623.9 936.8C626.9 935.6 627 933.6 627.6 932.9L629.0 917.1"/><path class="k" d="M582.1 913.4C584.6 914.6 592 918.8 597 920.4C601.9 921.9 607.4 922.6 611.9 922.7C616.3 922.9 621.1 922.2 623.9 921.3C626.8 920.5 628.2 918.2 629 917.6" style="stroke-width:3.6"/><path class="kw" d="M634.2 912.3L633.7 913.7L632.8 915.1L631.2 916.3L629.3 917.4L626.8 918.3L624 919L620.8 919.5L617.4 919.8L613.7 919.9L609.9 919.8L606.1 919.4L602.3 918.8L598.6 918.1L595.1 917.1L591.8 916L588.9 914.7L586.3 913.3L584.2 911.9L582.5 910.3L581.3 908.8L580.7 907.2L580.6 905.7"/><ellipse class="kw" cx="607.4" cy="905.5" rx="27" ry="10.5" transform="rotate(7 607.4 905.5)" style="stroke-width:3.6"/><path class="k" d="M590.7 921.8L591.4 926L609.1 929.4L610 926" style="stroke-width:2"/><path class="k" d="M622.5 923.6L622.1 927.8L625.6 926.9" style="stroke-width:2"/><path class="kw" d="M569.6 954.3L566.8 979.3C569.4 981 575.7 987 582.1 989.6C588.6 992.1 598.4 994.4 605.4 994.8C612.3 995.1 620.4 992.6 623.9 991.4C627.5 990.2 626.2 988.3 626.7 987.7L629.3 962.6"/><path class="k" d="M570.5 962.6C572.8 963.9 579 968.5 584 970.5C589 972.6 595.1 974.3 600.7 974.9C606.3 975.5 612.8 975.1 617.4 974.2C622 973.4 626.5 970.4 628.3 969.6"/><path class="k" d="M569.9 967.3C572.2 968.5 578.9 973 584 974.9C589.1 976.8 595.1 978.3 600.7 978.8C606.3 979.3 612.9 978.9 617.4 978C621.9 977 626.1 974.1 627.8 973.3"/><ellipse class="kw" cx="599.8" cy="956.3" rx="30.3" ry="12.5" transform="rotate(6 599.8 956.3)" style="stroke-width:3.6"/><ellipse class="k" cx="600.4" cy="956.6" rx="24.4" ry="8.8" transform="rotate(6 600.4 956.6)" style="stroke-width:3.4"/><path class="k" d="M608.1 993.7L608.3 983.2L624.1 979.5M610.2 992.8L610.4 985.5L623 982.3L622.6 989.6" style="stroke-width:2"/></g>
<g id="p_base"><path class="kw" d="M942.4 1015.4L942.5 1025.1L942.3 1027.6L941.4 1030L939.8 1032.4L937.6 1034.7L934.7 1037L931.2 1039.2L927.2 1041.3L922.6 1043.2L917.6 1045L912.1 1046.6L906.3 1047.9L900.3 1049.1L893.9 1050L887.5 1050.7L880.9 1051.2L874.4 1051.4L867.9 1051.3L861.5 1051L855.3 1050.4L849.4 1049.6L843.8 1048.6L838.7 1047.3L833.9 1045.9L829.7 1044.2L826 1042.3L823 1040.3L820.5 1038.2L818.7 1036L817.5 1033.7L817.1 1031.3L817.2 1021.4"/><ellipse class="kw" cx="879.8" cy="1018.4" rx="62.8" ry="23" transform="rotate(-2.8 879.8 1018.4)"/><path class="n" d="M939.2 1009.8L940.5 1012.8L940.6 1015.8L939.5 1018.9L937.2 1022L933.7 1025L929.1 1027.8L923.6 1030.4L917.1 1032.7L909.9 1034.7L902.1 1036.4L893.8 1037.6L885.3 1038.5L876.6 1038.9L868 1038.9L859.6 1038.5L851.7 1037.6L844.3 1036.3L837.6 1034.6L831.8 1032.6L827 1030.2L823.2 1027.6L820.6 1024.8L819.1 1021.8L818.9 1018.8L820 1015.7L822.2 1012.6" style="stroke:#c5cfcf;stroke-width:3.1"/><ellipse class="kw" cx="879.4" cy="1015.8" rx="52" ry="18" transform="rotate(-2.8 879.4 1015.8)" style="stroke-width:3.6"/><ellipse class="k" cx="879.6" cy="1016.2" rx="47.4" ry="14.4" transform="rotate(-2.8 879.6 1016.2)"/><path class="k" d="M841.2 1021.5C844 1020.5 851.5 1017 857.5 1015.5C863.5 1014 870.4 1013.1 877.5 1012.8C884.6 1012.4 893.3 1012.7 900 1013.5C906.7 1014.3 914.6 1017 917.5 1017.8"/><ellipse class="kw" cx="882.5" cy="1083.5" rx="57" ry="21.6" transform="rotate(-2.5 882.5 1083.5)" style="stroke-width:2.6"/><ellipse class="k" cx="882.5" cy="1083.7" rx="51.2" ry="16.2" transform="rotate(-2.5 882.5 1083.7)" style="stroke-width:2.6"/></g>
<g id="p_box7"><ellipse class="kw" cx="885.8" cy="1127.5" rx="15.2" ry="5.6" style="stroke-width:2"/><ellipse class="k" cx="885.8" cy="1127.6" rx="11.6" ry="3.2" style="stroke-width:1.8"/><path class="kw" d="M878.6 1301.2L879 1313.7C879.9 1314.3 882.1 1316.5 884.1 1317.2C886.2 1317.8 889.1 1317.9 891.6 1317.7C894 1317.5 897.3 1316.7 899 1316.1C900.7 1315.4 901.5 1314.1 902 1313.7L902.2 1301.2"/><path class="kw" d="M873.9 1177.7L876.7 1297.5L903.2 1297.5L899.5 1177.7Z"/><path class="k" d="M876.5 1297.7C878.4 1298 883.4 1299.8 887.9 1299.8C892.3 1299.8 900.7 1298 903.3 1297.7" style="stroke-width:2.9"/><path class="kw" d="M872.1 1170.3L872.3 1176.3C873.4 1176.6 876.1 1177.5 878.6 1177.9C881 1178.3 884.1 1178.5 886.9 1178.5C889.7 1178.4 892.9 1178.1 895.3 1177.7C897.7 1177.4 900.2 1176.6 901.1 1176.3L901.3 1170.3C900.3 1170.6 897.7 1171.8 895.3 1172.1C892.9 1172.5 889.7 1172.6 886.9 1172.6C884.1 1172.6 881 1172.3 878.6 1172C876.1 1171.6 873.2 1170.6 872.1 1170.3" style="stroke-width:2.9"/><path class="kw" d="M873.5 1165.6C873.5 1163.3 873.2 1155 873.5 1151.7C873.8 1148.5 874.2 1147.4 875.3 1146.1C876.5 1144.9 878.5 1144.7 880.4 1144.3C882.4 1143.9 884.8 1143.9 886.9 1143.9C889.1 1143.9 891.6 1143.9 893.4 1144.3C895.3 1144.7 897 1144.9 898.1 1146.1C899.2 1147.4 899.6 1148.5 899.9 1151.7C900.2 1155 899.9 1163.3 899.9 1165.6C899.2 1166 897.4 1167.1 895.3 1167.5C893.1 1167.9 889.7 1168.1 886.9 1168.1C884.1 1168.1 880.8 1167.9 878.6 1167.5C876.3 1167.1 874.3 1166 873.5 1165.6" style="stroke-width:2.9"/><path class="k" d="M874.9 1151.5C875.8 1151.9 878.4 1153.2 880.4 1153.6C882.4 1154 884.8 1154 886.9 1154C889.1 1154 891.4 1154 893.4 1153.6C895.4 1153.2 897.9 1151.9 898.8 1151.5" style="stroke-width:2.6"/><path class="n" d="M877.6 1146.6C879.2 1146.8 883.8 1148 886.9 1148C890 1148 894.7 1146.8 896.2 1146.6"/><path class="k" d="M875.3 1168.2C877.3 1168.5 883.1 1170.1 886.9 1170.1C890.8 1170.1 896.6 1168.5 898.5 1168.2"/><path class="n" d="M867 1231.6C868 1230.9 870.9 1228.9 873 1227.9C875.1 1226.8 877 1225.4 879.5 1225.5C882 1225.7 884.6 1227.4 887.9 1228.8C891.1 1230.2 895.9 1233.4 899 1233.9C902.1 1234.4 904.1 1232.6 906.4 1231.6C908.7 1230.6 911.8 1228.5 912.9 1227.9M864.6 1238.1C865.8 1237.4 869.3 1235.2 871.6 1234.2C873.9 1233.1 876 1231.6 878.6 1231.8C881.1 1231.9 883.8 1233.9 886.9 1235.3C890 1236.6 894.2 1239.5 897.1 1239.9C900.1 1240.3 902.3 1238.5 904.6 1237.6C906.8 1236.7 909.6 1234.9 910.6 1234.4" style="stroke:#e6ef1e;stroke-width:2.4"/><path class="kw" d="M933.4 1185.1L933.4 1311.4L962.1 1311.4L962.1 1183.3Z"/><path class="n" d="M935.4 1187.9L935.4 1310.5M960.6 1187L960.6 1310.5"/><path class="kw" d="M932.4 1174.9C932.4 1171.1 932.2 1156.1 932.4 1151.7C932.7 1147.3 932.7 1149.2 933.8 1148.5C934.9 1147.7 936.5 1147.3 938.9 1147.3C941.3 1147.2 945 1147.6 948.2 1148C951.5 1148.4 956.1 1148.9 958.4 1149.4C960.7 1149.9 961.4 1149.8 962.1 1151.2C962.8 1152.7 962.5 1154.1 962.6 1158.2C962.7 1162.3 962.6 1172.9 962.6 1175.9C961 1176.2 956 1177.6 952.9 1177.7C949.7 1177.8 947 1176.8 943.6 1176.3C940.2 1175.9 934.3 1175.2 932.4 1174.9"/><path class="k" d="M933.4 1150.3C934.3 1150.8 936.4 1152.4 938.9 1153.1C941.4 1153.8 945.1 1154.3 948.2 1154.5C951.3 1154.7 955.2 1154.4 957.5 1154C959.8 1153.6 961.2 1152.5 961.9 1152.2"/><path class="k" d="M937.1 1153.6L937.1 1174.9M952.9 1155L952.9 1177.2"/><path class="k" d="M932.4 1174.9L934.3 1184.2C935.5 1184.8 938.8 1187.1 941.7 1187.9C944.6 1188.8 949.1 1189.5 951.9 1189.3C954.7 1189.2 956.7 1188 958.4 1187C960.1 1186 961.5 1183.9 962.1 1183.3L962.6 1175.9"/><path class="k" d="M937.1 1175.9L938.5 1186.5M952.9 1177.5L952.4 1189"/><path class="kw" d="M930.6 1337.4C930.5 1334 929.6 1321.5 930.1 1317C930.6 1312.5 931.9 1311 933.4 1310.5C934.8 1310 936.7 1313.1 938.9 1314.2C941.2 1315.3 944.2 1317.3 946.8 1317C949.4 1316.7 952.4 1313.5 954.7 1312.3C957 1311.2 959 1309.4 960.7 1310C962.4 1310.6 964.1 1311.8 964.9 1316.1C965.7 1320.3 965.3 1332.3 965.4 1335.6C964.1 1336.6 960.5 1340.3 957.5 1341.6C954.5 1342.9 950.5 1343.4 947.3 1343.4C944 1343.4 940.8 1342.6 938 1341.6C935.2 1340.6 931.8 1338.1 930.6 1337.4" style="stroke-width:2.9"/><path class="k" d="M931.5 1320.7C932.6 1321.4 935.4 1324 938 1324.9C940.6 1325.7 944 1325.9 947.3 1325.8C950.5 1325.7 954.6 1325.3 957.5 1324.4C960.4 1323.5 963.3 1320.9 964.5 1320.2"/><path class="k" d="M934.3 1322.7L934.3 1339.3" style="stroke-width:1.9"/><path class="k" d="M940 1325.2L940 1342.2" style="stroke-width:1.9"/><path class="k" d="M946.8 1325.8L946.8 1343.3" style="stroke-width:1.9"/><path class="k" d="M953.8 1325.3L953.8 1342.5" style="stroke-width:1.9"/><path class="k" d="M960.7 1322.7L960.7 1339.3" style="stroke-width:1.9"/><path class="n" d="M939.9 1314.7L938.5 1324.9M946.8 1317L947.3 1325.8M954.2 1312.8L955.6 1324.9"/><path class="kw" d="M996.4 1208L996.7 1226.7C997.6 1227.2 999.8 1229.4 1002.1 1230.2C1004.5 1231 1008 1231.5 1010.9 1231.5C1013.9 1231.5 1017.3 1231 1019.7 1230.2C1022.1 1229.4 1024.3 1227.2 1025.2 1226.7L1025.2 1208.0" style="stroke-width:3.1"/><ellipse class="kb" cx="1010.9" cy="1208" rx="14.4" ry="5.7"/><ellipse cx="1011" cy="1208.3" rx="7.3" ry="2.3" fill="#fff"/><path class="k" d="M1000.3 1212L1000.3 1229.2" style="stroke-width:2.4"/><path class="k" d="M1002.7 1212L1002.7 1229.2" style="stroke-width:1"/><path class="k" d="M1010.9 1212L1010.9 1229.2" style="stroke-width:1.6"/><path class="k" d="M1013.6 1212L1013.6 1229.2" style="stroke-width:1"/><path class="k" d="M1015.2 1212L1015.2 1229.2" style="stroke-width:1.6"/><path class="k" d="M1021.9 1212L1021.9 1229.2" style="stroke-width:2.2"/><path class="kw" d="M997 1238.4C999.2 1238.8 1005.3 1239 1010.2 1240.6C1015.1 1242.2 1021.2 1244.4 1026.3 1247.9C1031.5 1251.5 1037.1 1257.1 1041 1261.8C1044.9 1266.6 1047.8 1271.6 1049.8 1276.5C1051.8 1281.4 1052.8 1286.5 1053.1 1291.2C1053.3 1295.8 1052.5 1299.8 1051.2 1304.4C1050 1308.9 1048.1 1314.1 1045.4 1318.3C1042.7 1322.5 1039.3 1326.4 1035.1 1329.3C1031 1332.2 1025.6 1334.4 1020.5 1335.9C1015.3 1337.4 1008.8 1337.8 1004.3 1338.1C999.8 1338.3 995.2 1337.5 993.3 1337.4C993 1337.1 991.8 1337.8 991.5 1335.9C991.2 1333.9 990.6 1328.1 991.5 1325.6C992.4 1323.2 994.1 1323.2 997 1321.2C999.9 1319.3 1006.3 1316 1008.7 1313.9C1011.2 1311.8 1011.3 1310.7 1011.7 1308.8C1012 1306.8 1010.4 1304 1010.9 1302.2C1011.4 1300.3 1013.2 1298.7 1014.6 1297.8C1015.9 1296.9 1017 1296.8 1019 1296.7C1020.9 1296.5 1025 1298.1 1026.3 1297C1027.7 1296 1027.8 1292.5 1027.1 1290.4C1026.3 1288.4 1024 1285.8 1021.9 1284.6C1019.8 1283.4 1016.4 1283.8 1014.6 1283.1C1012.8 1282.4 1011.4 1281.9 1010.9 1280.2C1010.4 1278.5 1012.1 1275 1011.7 1272.8C1011.2 1270.6 1010.1 1269.2 1008 1267C1005.9 1264.8 1001.9 1262 999.2 1259.6C996.4 1257.3 992.8 1255.7 991.5 1253C990.2 1250.4 991.5 1245.1 991.5 1243.5Z" style="stroke-width:2.6"/><path class="k" d="M991.5 1243.5C993.6 1243.7 999.5 1243.3 1004.3 1244.4C1009.2 1245.5 1015.3 1247.1 1020.5 1250.3C1025.6 1253.4 1031.1 1258.8 1035.1 1263.5C1039.1 1268.1 1042.5 1273.2 1044.6 1278.1C1046.8 1283 1047.6 1288.2 1047.9 1292.8C1048.3 1297.4 1047.5 1301.7 1046.5 1305.8C1045.5 1310 1043.6 1314.3 1042.1 1317.6C1040.6 1320.9 1038.1 1324.3 1037.3 1325.6"/><path class="k" d="M1003.2 1240.6L1002.1 1244.4"/><path class="k" d="M1014.6 1297.8C1014.8 1298.1 1015.1 1299.5 1016.1 1300C1017 1300.5 1019 1300.8 1020.5 1300.7C1021.9 1300.6 1023.9 1299.8 1024.9 1299.2C1025.8 1298.6 1026.1 1297.4 1026.3 1297"/></g>
<g id="p_hose"><path d="M458 1088.8C457.8 1095.6 456.8 1118.1 456.5 1130C456.2 1141.9 455.2 1149.2 456.2 1160C457.2 1170.8 458.5 1183.8 462.5 1195C466.5 1206.2 472.1 1218.2 480 1227.5C487.9 1236.8 498.3 1244.5 510 1250.5C521.7 1256.5 537.1 1261 550 1263.5C562.9 1266 575 1266.8 587.5 1265.8C600 1264.7 612.9 1262.5 625 1257.2C637.1 1252 650.8 1243 660 1234.2C669.2 1225.5 675.4 1215.7 680 1205" fill="none" stroke="#111" stroke-width="17.8"/><path d="M458 1088.8C457.8 1095.6 456.8 1118.1 456.5 1130C456.2 1141.9 455.2 1149.2 456.2 1160C457.2 1170.8 458.5 1183.8 462.5 1195C466.5 1206.2 472.1 1218.2 480 1227.5C487.9 1236.8 498.3 1244.5 510 1250.5C521.7 1256.5 537.1 1261 550 1263.5C562.9 1266 575 1266.8 587.5 1265.8C600 1264.7 612.9 1262.5 625 1257.2C637.1 1252 650.8 1243 660 1234.2C669.2 1225.5 675.4 1215.7 680 1205" fill="none" stroke="#fff" stroke-width="11.4" stroke-dasharray="4.2 4.1" stroke-dashoffset="0"/><path d="M681.6 1146.6L681.9 1155.4L681.4 1164.2L680.1 1172.9L678 1181.5L675 1189.9L671.3 1198L666.8 1205.8L661.6 1213.3L655.7 1220.3L649.2 1226.8L642 1232.8L634.4 1238.2L626.3 1243L617.7 1247.1L608.8 1250.5L599.7 1253.2L590.3 1255.2L580.8 1256.4L571.2 1256.9L561.6 1256.6L552.1 1255.5L542.8 1253.7L533.6 1251.1L524.8 1247.8L516.3 1243.8L508.3 1239.1L500.7 1233.8L493.7 1228L487.3 1221.5L481.5 1214.6L476.4 1207.2L472 1199.5L468.4 1191.4L465.6 1183L463.6 1174.5L462.4 1165.8L462.1 1157L462.6 1148.2L463.9 1139.5L466 1130.9L469 1122.5L472.7 1114.4L477.2 1106.6L482.4 1099.1L488.3 1092.1L494.8 1085.6L502 1079.6L509.6 1074.2L517.7 1069.4L526.3 1065.3L535.2 1061.9L544.3 1059.2L553.7 1057.2L563.2 1056L572.8 1055.5L582.4 1055.8L591.9 1056.9L601.2 1058.7L610.4 1061.3L619.2 1064.6L627.7 1068.6L635.7 1073.3L643.3 1078.6L650.3 1084.4L656.7 1090.9L662.5 1097.8L667.6 1105.2L672 1112.9L675.6 1121L678.4 1129.4L680.4 1137.9L681.6 1146.6Z" fill="none" stroke="#111" stroke-width="16.9"/><path d="M681.6 1146.6L681.9 1155.4L681.4 1164.2L680.1 1172.9L678 1181.5L675 1189.9L671.3 1198L666.8 1205.8L661.6 1213.3L655.7 1220.3L649.2 1226.8L642 1232.8L634.4 1238.2L626.3 1243L617.7 1247.1L608.8 1250.5L599.7 1253.2L590.3 1255.2L580.8 1256.4L571.2 1256.9L561.6 1256.6L552.1 1255.5L542.8 1253.7L533.6 1251.1L524.8 1247.8L516.3 1243.8L508.3 1239.1L500.7 1233.8L493.7 1228L487.3 1221.5L481.5 1214.6L476.4 1207.2L472 1199.5L468.4 1191.4L465.6 1183L463.6 1174.5L462.4 1165.8L462.1 1157L462.6 1148.2L463.9 1139.5L466 1130.9L469 1122.5L472.7 1114.4L477.2 1106.6L482.4 1099.1L488.3 1092.1L494.8 1085.6L502 1079.6L509.6 1074.2L517.7 1069.4L526.3 1065.3L535.2 1061.9L544.3 1059.2L553.7 1057.2L563.2 1056L572.8 1055.5L582.4 1055.8L591.9 1056.9L601.2 1058.7L610.4 1061.3L619.2 1064.6L627.7 1068.6L635.7 1073.3L643.3 1078.6L650.3 1084.4L656.7 1090.9L662.5 1097.8L667.6 1105.2L672 1112.9L675.6 1121L678.4 1129.4L680.4 1137.9L681.6 1146.6Z" fill="none" stroke="#fff" stroke-width="11.4" stroke-dasharray="4.2 4.1" stroke-dashoffset="0"/><path d="M672.7 1142.7L673.3 1150L673 1157.4L672 1164.7L670.2 1171.9L667.7 1179.1L664.4 1186L660.5 1192.7L655.9 1199.2L650.6 1205.3L644.8 1211L638.4 1216.2L631.5 1221L624.1 1225.4L616.4 1229.1L608.3 1232.3L600 1235L591.4 1237L582.7 1238.4L574 1239.1L565.2 1239.2L556.4 1238.7L547.8 1237.6L539.4 1235.8L531.2 1233.4L523.4 1230.4L515.9 1226.8L508.9 1222.7L502.3 1218L496.3 1212.9L490.8 1207.3L486 1201.4L481.8 1195.1L478.3 1188.5L475.6 1181.6L473.5 1174.5L472.3 1167.3L471.7 1160L472 1152.6L473 1145.3L474.8 1138.1L477.3 1130.9L480.6 1124L484.5 1117.3L489.1 1110.8L494.4 1104.7L500.2 1099L506.6 1093.8L513.5 1089L520.9 1084.6L528.6 1080.9L536.7 1077.7L545 1075L553.6 1073L562.3 1071.6L571 1070.9L579.8 1070.8L588.6 1071.3L597.2 1072.4L605.6 1074.2L613.8 1076.6L621.6 1079.6L629.1 1083.2L636.1 1087.3L642.7 1092L648.7 1097.1L654.2 1102.7L659 1108.6L663.2 1114.9L666.7 1121.5L669.4 1128.4L671.5 1135.5L672.7 1142.7Z" fill="none" stroke="#111" stroke-width="16.9"/><path d="M672.7 1142.7L673.3 1150L673 1157.4L672 1164.7L670.2 1171.9L667.7 1179.1L664.4 1186L660.5 1192.7L655.9 1199.2L650.6 1205.3L644.8 1211L638.4 1216.2L631.5 1221L624.1 1225.4L616.4 1229.1L608.3 1232.3L600 1235L591.4 1237L582.7 1238.4L574 1239.1L565.2 1239.2L556.4 1238.7L547.8 1237.6L539.4 1235.8L531.2 1233.4L523.4 1230.4L515.9 1226.8L508.9 1222.7L502.3 1218L496.3 1212.9L490.8 1207.3L486 1201.4L481.8 1195.1L478.3 1188.5L475.6 1181.6L473.5 1174.5L472.3 1167.3L471.7 1160L472 1152.6L473 1145.3L474.8 1138.1L477.3 1130.9L480.6 1124L484.5 1117.3L489.1 1110.8L494.4 1104.7L500.2 1099L506.6 1093.8L513.5 1089L520.9 1084.6L528.6 1080.9L536.7 1077.7L545 1075L553.6 1073L562.3 1071.6L571 1070.9L579.8 1070.8L588.6 1071.3L597.2 1072.4L605.6 1074.2L613.8 1076.6L621.6 1079.6L629.1 1083.2L636.1 1087.3L642.7 1092L648.7 1097.1L654.2 1102.7L659 1108.6L663.2 1114.9L666.7 1121.5L669.4 1128.4L671.5 1135.5L672.7 1142.7Z" fill="none" stroke="#fff" stroke-width="11.4" stroke-dasharray="4.2 4.1" stroke-dashoffset="0"/><path d="M680.0 1205.0C684.6 1194.3 686.2 1182.5 687.5 1170C688.8 1157.5 687.9 1141 687.8 1130C687.6 1119 686.9 1108.1 686.8 1103.8" fill="none" stroke="#111" stroke-width="17.8"/><path d="M680.0 1205.0C684.6 1194.3 686.2 1182.5 687.5 1170C688.8 1157.5 687.9 1141 687.8 1130C687.6 1119 686.9 1108.1 686.8 1103.8" fill="none" stroke="#fff" stroke-width="11.4" stroke-dasharray="4.2 4.1" stroke-dashoffset="5.6"/><path class="kw" d="M447.6 1072.7L447.6 1089.8L467.2 1089.8L467.2 1072.7Z" style="stroke-width:2.6"/><path class="kw" d="M443 1055.5L443.4 1066.5L447.3 1072.4C448.8 1072.7 453.8 1074.3 457.2 1074.3C460.6 1074.3 465.9 1072.7 467.7 1072.4L471.2 1066.5L471.7 1055.5" style="stroke-width:3.1"/><ellipse class="kw" cx="457.2" cy="1055.6" rx="14.4" ry="6.7" style="stroke-width:3.4"/><ellipse class="k" cx="457.2" cy="1056.3" rx="10.6" ry="4.4" style="stroke-width:1.9"/><path class="k" d="M452.6 1063.6L452.9 1072.7M462.7 1063.6L462.4 1072.7"/><ellipse class="k" cx="448.6" cy="1067.2" rx="2.6" ry="4.6"/><ellipse class="k" cx="465.8" cy="1067" rx="2.5" ry="4.6"/><path class="kw" d="M677.5 1088.8L677.5 1105L695 1105L695.5 1088.8Z" style="stroke-width:2.6"/><path class="kw" d="M672 1055L675 1088C676.9 1088.4 682.5 1090.5 686.2 1090.5C690 1090.5 695.6 1088.4 697.5 1088L700.0 1055.0" style="stroke-width:2.9"/><ellipse class="kw" cx="686" cy="1054.6" rx="14" ry="7.6" style="stroke-width:3.1"/><ellipse class="k" cx="686" cy="1055.4" rx="10" ry="4.6" style="stroke-width:1.8"/></g>
<g id="p_shower"><path class="kb" d="M148.1 1369.1L148.7 1382L159.2 1384.5L170.9 1384.5L179.4 1382L179.7 1369.1Z"/><path class="kw" d="M161.6 1142.9C156.5 1143.5 149.4 1145.8 145.2 1148.8C141 1151.7 138.2 1156.6 136.4 1160.5C134.5 1164.4 134 1167.5 134 1172.2C134 1176.9 135.4 1182 136.4 1188.6C137.3 1195.2 139.3 1202.3 139.9 1212C140.5 1221.8 139.9 1231.6 139.9 1247.2C139.9 1262.8 139.8 1286.5 139.9 1305.8C140 1325.1 138.6 1352.7 140.5 1363.2C142.3 1373.8 146.7 1367.7 151 1369.1C155.3 1370.4 161.4 1371.5 166.3 1371.4C171.1 1371.3 177.3 1369.9 180.3 1368.5C183.3 1367.1 183.8 1373.7 184.4 1363.2C185 1352.8 184.3 1325.1 183.8 1305.8C183.3 1286.5 182 1260.9 181.5 1247.2C181 1233.5 180.6 1230.8 180.9 1223.8C181.2 1216.7 182.2 1210.1 183.2 1205C184.3 1199.9 185.6 1198.3 187.3 1193.3C189.1 1188.3 194 1181.8 193.8 1175.1C193.6 1168.5 189.2 1158.4 186.2 1153.4C183.1 1148.5 179.7 1147 175.6 1145.2C171.5 1143.5 166.6 1142.3 161.6 1142.9Z" style="stroke-width:2.5"/><path class="k" d="M148.7 1168.7C148.1 1171.6 146 1179 145.2 1186.3C144.3 1193.5 143.4 1201.9 143.4 1212C143.4 1222.2 144.6 1231.6 144.9 1247.2C145.3 1262.8 145.3 1286.3 145.4 1305.8C145.5 1325.3 145.7 1354.6 145.7 1364.4"/><circle cx="169.2" cy="1175.1" r="24.4" class="kw" style="stroke-width:2.7"/><circle cx="170.9" cy="1175.1" r="17.3" fill="#111"/><rect x="155.4" y="1235.6" width="23.6" height="57.4" rx="11" class="k" style="stroke-width:3.6"/><path class="k" d="M169.2 1241.3C171 1241.3 173.6 1244.7 174.5 1247.2C175.3 1249.7 175.1 1253.6 174.2 1256.6C173.3 1259.5 170.9 1264.6 169.2 1264.8C167.5 1265 165.1 1260.7 164.1 1257.7C163.2 1254.8 162.5 1249.9 163.3 1247.2C164.2 1244.5 167.3 1241.3 169.2 1241.3Z" style="stroke-width:2.3"/><path class="n" d="M169.5 1245.4C170.5 1245.4 172 1247.7 172.3 1249.5C172.7 1251.4 172.4 1254.6 171.9 1256.6C171.4 1258.5 170 1261.3 169.2 1261.3C168.3 1261.3 167.2 1258.5 166.7 1256.6C166.3 1254.6 166 1251.4 166.5 1249.5C167 1247.7 168.6 1245.4 169.5 1245.4Z"/><path class="kw" d="M311 1308L298.6 1298.8L252.4 1261.8C251.4 1260.5 247.6 1256.7 246.3 1253.6C245 1250.6 244.4 1248.3 244.8 1243.4C245.1 1238.4 245.2 1229.7 248.3 1223.9C251.5 1218.1 258.3 1211.9 263.7 1208.5C269.2 1205.1 276.1 1203.7 281.2 1203.3C286.3 1203 292.3 1205.9 294.5 1206.4L342.8 1249.5C344 1250.6 347.9 1253 350 1255.7C352 1258.4 354.4 1262.2 355.1 1266C355.8 1269.7 355.3 1274 354.1 1278.3C352.9 1282.5 350 1288.2 347.9 1291.6C345.8 1295 342.8 1297.6 341.7 1298.8L340.7 1250.6" style="stroke-width:2.3"/><path class="k" d="M340.7 1250.6L340.7 1298.8" style="stroke-width:4.6"/><path class="k" d="M337.6 1296.7L340.7 1299.8" style="stroke-width:2.5"/><path class="k" d="M308 1259L306.5 1258.7L305.1 1258.3L303.7 1257.6L302.4 1256.7L301.3 1255.7L300.4 1254.5L299.6 1253.2L298.9 1251.8L298.5 1250.3L298.3 1248.7L298.3 1247.2L298.6 1245.6L299 1244.1L299.6 1242.7L300.4 1241.4L301.4 1240.2L302.5 1239.2L303.8 1238.3L305.2 1237.7L306.6 1237.2L308.1 1237L309.6 1237L311.1 1237.2L312.5 1237.6L338.8 1255.2" style="stroke-width:1.3"/><path class="k" d="M307.8 1261.3L306 1261L304.3 1260.4L302.6 1259.6L301.1 1258.6L299.8 1257.3L298.6 1255.9L297.6 1254.3L296.9 1252.6L296.4 1250.7L296.1 1248.9L296.1 1247L296.4 1245.1L296.9 1243.3L297.7 1241.6L298.7 1240L299.8 1238.6L301.2 1237.4L302.7 1236.3L304.4 1235.5L306.1 1235L307.9 1234.7L309.7 1234.7L311.5 1235L313.3 1235.5L339.5 1252.4" style="stroke-width:1.3"/><path class="k" d="M307.6 1263.7L305.4 1263.4L303.4 1262.7L301.4 1261.8L299.6 1260.5L298 1259.1L296.6 1257.3L295.5 1255.5L294.6 1253.4L294 1251.3L293.7 1249L293.7 1246.8L294.1 1244.6L294.7 1242.4L295.6 1240.4L296.7 1238.5L298.2 1236.8L299.8 1235.4L301.6 1234.1L303.5 1233.2L305.6 1232.6L307.7 1232.2L309.9 1232.2L312 1232.5L314.1 1233.1L340.2 1249.4" style="stroke-width:2.4"/><ellipse cx="308.9" cy="1248" rx="8.3" ry="8.8" class="kw" style="stroke-width:2.5"/><path class="kw" d="M311 1259.8C309.6 1261.5 305 1266.3 302.7 1270.1C300.5 1273.8 298 1278.3 297.6 1282.4C297.3 1286.5 298.5 1290.4 300.7 1294.7C302.9 1299 309.2 1305.8 311 1308Z" style="stroke-width:3.2"/><path class="k" d="M310.7 1263.9C309.9 1265.3 307.2 1269 305.8 1272.1C304.4 1275.2 302.5 1278.8 302.2 1282.4C302 1286 302.9 1290.1 304.3 1293.7C305.7 1297.3 309.7 1302.2 310.7 1303.9"/><path class="k" d="M313 1270.1C313.7 1270.4 316.2 1270.9 317.1 1272.1C318 1273.3 318.4 1275.5 318.3 1277.2C318.3 1279 317.5 1281.2 316.6 1282.4C315.7 1283.6 313.6 1284.1 313 1284.4" style="stroke-width:2.3"/><path class="k" d="M313 1290.8C314.5 1290.3 319.3 1288.7 322.2 1288.1C325.2 1287.6 328.1 1287.2 330.5 1287.5C332.8 1287.8 334.9 1288.5 336.1 1290.1C337.3 1291.6 337.4 1295.6 337.6 1296.7" style="stroke-width:2.3"/><rect x="250.9" y="1314.2" width="88.3" height="79.5" class="kw" style="stroke-width:2.5;stroke-linejoin:miter"/><path d="M250.9 1333.7H339.2M250.9 1336.9H339.2" class="k" style="stroke-width:1.8"/><circle cx="295" cy="1323.2" r="4.5" class="k" style="stroke-width:2.1"/><path class="kb" d="M268.4 1350q0-3.4 4.9-3.4t4.9 3.4l-1.6 4v17l-3.3 8.6l-3.3-8.6v-17z"/><path class="kb" d="M280.3 1350q0-3.4 4.9-3.4t4.9 3.4l-1.6 4v17l-3.3 8.6l-3.3-8.6v-17z"/><path class="kb" d="M296.6 1347q0-3.2 4.9-3.2t4.9 3.2v4.5l2 1.5l-2.4 3v19l-4.5 5.2l-4.5-5.2v-19l-2.4-3l2-1.5z"/><path class="n" d="M299.6 1351.6q1.9 1.4 3.8 0" style="stroke:#fff;stroke-width:1.1"/><path class="n" d="M301.5 1356v19" style="stroke:#777;stroke-width:.5;stroke-dasharray:1.5 1"/><path class="kb" d="M311 1347q0-3.2 4.9-3.2t4.9 3.2v4.5l2 1.5l-2.4 3v19l-4.5 5.2l-4.5-5.2v-19l-2.4-3l2-1.5z"/><path class="n" d="M314 1351.6q1.9 1.4 3.8 0" style="stroke:#fff;stroke-width:1.1"/><path class="n" d="M315.9 1356v19" style="stroke:#777;stroke-width:.5;stroke-dasharray:1.5 1"/></g>
<g id="p_bag"><rect x="159.6" y="547" width="151.2" height="212.8" class="kw" style="stroke-width:2.3;stroke-linejoin:miter"/><path d="M159.6 570H310.8M159.6 573H310.8" class="k" style="stroke-width:1.7"/><circle cx="235" cy="557.6" r="4.7" class="k" style="stroke-width:2.1"/><ellipse class="kw" cx="232.8" cy="589.4" rx="10.6" ry="6.4" style="stroke-width:2.1"/><ellipse class="k" cx="232.8" cy="589.6" rx="7" ry="3.4" style="stroke-width:1.6"/><path class="kw" d="M231.5 595.2L231.5 609.9L228.9 609.9L232.8 618.7L236.8 609.9L234.1 609.9L234.1 595.2Z" style="stroke-width:1.7"/><path class="kb" d="M213 637C213 641.7 212 659.2 213 664.9C214 670.6 216 669.9 219.2 671.5C222.4 673.1 228 674.4 232.4 674.4C236.8 674.4 242.3 673.1 245.6 671.5C248.9 669.9 251.1 670.6 252.2 664.9C253.3 659.2 252.2 641.7 252.2 637Z"/><path class="kb" d="M213 635.6L213 665.6C214 666.6 216 670 219.2 671.5C222.4 673 228 674.4 232.4 674.4C236.8 674.4 242.3 673 245.6 671.5C248.9 670 251.1 666.6 252.2 665.6L252.2 635.6Z"/><path class="n" d="M214.8 642.9C216.2 643.6 220.6 646.2 223.6 647C226.5 647.9 229.2 648.1 232.4 648C235.6 648 239.6 647.7 242.6 646.9C245.7 646 249.4 643.6 250.7 642.9" style="stroke:#fff;stroke-width:2.5"/><path class="kb" d="M215.1 626.8L215.1 639.2L222.1 643.6L242.6 643.6L250 639.2L250 626Z"/><path class="n" d="M226.5 635.6L226.5 641.7L238.5 641.7L238.5 635.6Z" style="fill:#fff;stroke:none"/><path class="n" d="M217.7 631.2L217.7 638.5L222.8 641.4L222.8 634.4Z" style="fill:#fff;stroke:none"/><path class="n" d="M242.6 634.4L242.6 641.4L247.8 638.5L247.8 631.2Z" style="fill:#fff;stroke:none"/><path class="kw" d="M219.2 617.2L219.9 627.5C221 628.1 224.3 630.4 226.5 631.2C228.7 631.9 230.7 632 233.1 631.9C235.6 631.9 239 631.6 241.2 630.9C243.3 630.1 245.1 628.1 245.9 627.5L246.3 617.2" style="stroke-width:3.2"/><ellipse class="kb" cx="232.7" cy="617.2" rx="13.5" ry="6.4"/><ellipse cx="226.6" cy="617.6" rx="3.6" ry="2.6" fill="#fff"/><ellipse cx="238.6" cy="617.4" rx="3.6" ry="2.6" fill="#fff"/><path class="n" d="M231.6 609.2L231.6 616.5" style="stroke:#fff;stroke-width:1.2"/><path class="kw" d="M231.5 696.4L231.5 684.7L228 684.7L232.8 675.5L237.7 684.7L234.1 684.7L234.1 696.4Z" style="stroke-width:1.7"/><path class="kw" d="M218.7 695.7L219.2 722.1C220.2 722.9 222.8 726.1 225 727.2C227.3 728.3 230.1 728.7 232.8 728.7C235.5 728.7 238.9 728.3 241.2 727.2C243.5 726.1 245.8 722.9 246.7 722.1L247.0 695.7" style="stroke-width:3.2"/><path class="k" d="M219.2 719.9C220.2 720.5 222.8 723 225 723.8C227.3 724.7 230.1 725 232.8 725C235.5 725 238.9 724.7 241.2 723.8C243.5 723 245.8 720.5 246.7 719.9" style="stroke-width:1.5"/><ellipse class="kb" cx="232.8" cy="695.8" rx="14.2" ry="6.6"/><path class="k" d="M218.7 698.6C219.8 699.6 222.7 703.3 225 704.5C227.4 705.7 230.1 706 232.8 706C235.5 706 238.8 705.7 241.2 704.5C243.5 703.3 246.1 699.6 247 698.6" style="stroke-width:3.6"/><ellipse cx="232.8" cy="696.6" rx="10" ry="3.6" fill="#111" stroke="#666" stroke-width=".6"/><path class="n" d="M232.8 687.6L232.8 697.2" style="stroke:#fff;stroke-width:1.7"/></g>
<g id="p_flex"><defs><pattern id="hb" width="13.5" height="3.6" patternUnits="userSpaceOnUse" x="1142.6" y="520"><path d="M0 0L3.4 3.6M3.4 3.6L6.75 0M6.75 0L10.1 3.6M10.1 3.6L13.5 0" stroke="#d5dede" stroke-width=".8" stroke-dasharray="2.6 1.2" fill="none"/></pattern></defs><rect x="1142.6" y="520" width="27" height="237.5" fill="#72878a"/><rect x="1142.6" y="520" width="27" height="237.5" fill="url(#hb)"/><path d="M1142.6 520v237.5M1169.6 520v237.5" stroke="#26302f" stroke-width="1.3" stroke-dasharray="2.2 1" fill="none"/><rect x="1141" y="618.4" width="30" height="2.6" fill="#fff"/><rect x="1142.4" y="493.5" width="28.4" height="9.6" rx="3.4" class="kw" style="stroke-width:2.3"/><path d="M1144 496.5q12.6 3.6 25.2 0" class="k" style="stroke-width:1.4"/><rect x="1142.4" y="503" width="28.4" height="9.6" rx="3.4" class="kw" style="stroke-width:2.3"/><path d="M1144 506q12.6 3.6 25.2 0" class="k" style="stroke-width:1.4"/><rect x="1142.4" y="512.4" width="28.4" height="9.6" rx="3.4" class="kw" style="stroke-width:2.3"/><path d="M1144 515.4q12.6 3.6 25.2 0" class="k" style="stroke-width:1.4"/><rect x="1143.6" y="483.8" width="26" height="9.8" rx="1.5" class="kw" style="stroke-width:2.3"/><path d="M1150.5 485v8M1163.6 485v8" class="k" style="stroke-width:1.7"/><rect x="1147.6" y="472" width="18" height="12" class="kw" style="stroke-width:1.7"/><path d="M1148 476h17.4M1148 479.4h17.4" class="k" style="stroke-width:1.8"/><rect x="1145.8" y="458" width="21.8" height="15.6" rx="2.6" fill="#111"/><rect x="1141.6" y="757" width="27" height="7.6" rx="3" class="kw" style="stroke-width:2.1"/><rect x="1141.6" y="764.4" width="27" height="7.6" rx="3" class="kw" style="stroke-width:2.1"/><rect x="1141.6" y="771.6" width="27" height="7.6" rx="3" class="kw" style="stroke-width:2.1"/><path d="M1131.6 783L1142.6 778.4H1167.6L1176.4 783V805.9Q1165.6 810.9 1154 810.4Q1141.6 810.9 1131.6 805.9Z" class="kw" style="stroke-width:2.3"/><path d="M1131.6 783.4L1154 789.8L1176.4 783.4M1154 789.8V810" class="k" style="stroke-width:1.9"/><rect x="1196.8" y="522.4" width="27" height="237.5" fill="#72878a"/><rect x="1196.8" y="522.4" width="27" height="237.5" fill="url(#hb)"/><path d="M1196.8 522.4v237.5M1223.8 522.4v237.5" stroke="#26302f" stroke-width="1.3" stroke-dasharray="2.2 1" fill="none"/><rect x="1195.2" y="620.8" width="30" height="2.6" fill="#fff"/><rect x="1196.6" y="495.9" width="28.4" height="9.6" rx="3.4" class="kw" style="stroke-width:2.3"/><path d="M1198.2 498.9q12.6 3.6 25.2 0" class="k" style="stroke-width:1.4"/><rect x="1196.6" y="505.4" width="28.4" height="9.6" rx="3.4" class="kw" style="stroke-width:2.3"/><path d="M1198.2 508.4q12.6 3.6 25.2 0" class="k" style="stroke-width:1.4"/><rect x="1196.6" y="514.8" width="28.4" height="9.6" rx="3.4" class="kw" style="stroke-width:2.3"/><path d="M1198.2 517.8q12.6 3.6 25.2 0" class="k" style="stroke-width:1.4"/><rect x="1197.8" y="486.2" width="26" height="9.8" rx="1.5" class="kw" style="stroke-width:2.3"/><path d="M1204.7 487.4v8M1217.8 487.4v8" class="k" style="stroke-width:1.7"/><rect x="1201.8" y="474.4" width="18" height="12" class="kw" style="stroke-width:1.7"/><path d="M1202.2 478.4h17.4M1202.2 481.8h17.4" class="k" style="stroke-width:1.8"/><rect x="1200" y="460.4" width="21.8" height="15.6" rx="2.6" fill="#111"/><rect x="1195.8" y="759.4" width="27" height="7.6" rx="3" class="kw" style="stroke-width:2.1"/><rect x="1195.8" y="766.8" width="27" height="7.6" rx="3" class="kw" style="stroke-width:2.1"/><rect x="1195.8" y="774" width="27" height="7.6" rx="3" class="kw" style="stroke-width:2.1"/><path d="M1185.8 785.4L1196.8 780.8H1221.8L1230.6 785.4V808.3Q1219.8 813.3 1208.2 812.8Q1195.8 813.3 1185.8 808.3Z" class="kw" style="stroke-width:2.3"/><path d="M1185.8 785.8L1208.2 792.2L1230.6 785.8M1208.2 792.2V812.4" class="k" style="stroke-width:1.9"/></g>
</svg>
</body></html>
